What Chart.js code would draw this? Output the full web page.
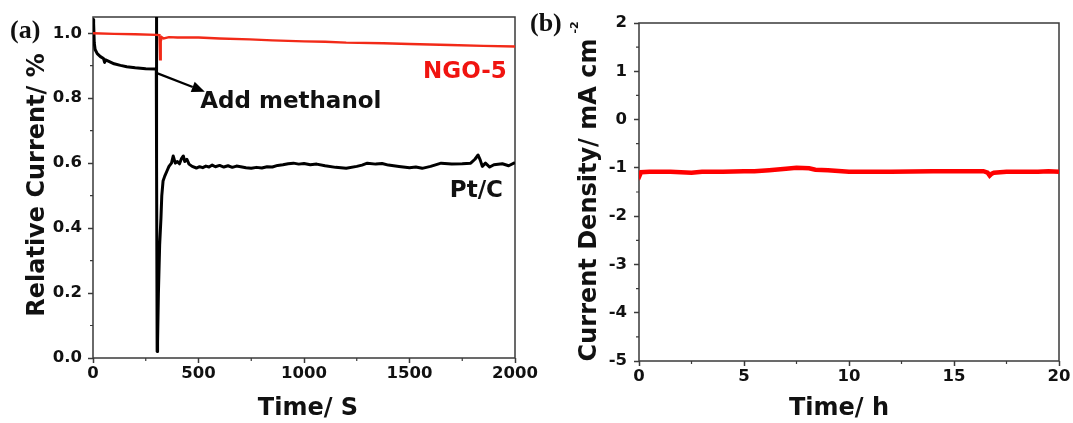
<!DOCTYPE html>
<html>
<head>
<meta charset="utf-8">
<script src="https://cdn.jsdelivr.net/npm/chart.js@4.4.1/dist/chart.umd.min.js"></script>
<style>
  body { margin: 0; background: #fff; }
  #wrap { position: relative; width: 1073px; height: 423px; overflow: hidden; }
  canvas { position: absolute; top: 0; }
  #chartA { left: 0; }
  #chartB { left: 528px; }
</style>
</head>
<body>
<div id="wrap">
  <canvas id="chartA" width="560" height="423"></canvas>
  <canvas id="chartB" width="545" height="423"></canvas>
</div>
<script>
const FONT = '"DejaVu Sans", "Liberation Sans", sans-serif';
const frameColor = '#3a3a3a';

// (a) Pt/C: relative current, methanol injected near 300 s
const ptTime = [0, 3, 6, 10, 20, 35, 50, 55, 60, 80, 100, 130, 160, 200, 250, 298, 300,
  300.5, 302, 304, 306, 310, 316, 322, 326, 332, 340, 350, 360, 372, 380, 390, 400, 410,
  420, 428, 435, 445, 455, 470, 490, 505, 520, 535, 550, 565, 580, 600, 620, 640, 660,
  680, 700, 725, 750, 775, 800, 825, 850, 875, 900, 925, 950, 975, 1000, 1030, 1060,
  1100, 1150, 1200, 1250, 1275, 1300, 1340, 1370, 1400, 1450, 1500, 1530, 1560, 1600,
  1650, 1700, 1750, 1790, 1810, 1825, 1835, 1845, 1860, 1880, 1900, 1940, 1970, 2000];
const ptCurrent = [1.042, 1.03, 0.97, 0.95, 0.937, 0.928, 0.922, 0.91, 0.918, 0.912,
  0.906, 0.901, 0.897, 0.894, 0.891, 0.89, 0.89,
  1.2, 0.6, 0.02, 0.05, 0.2, 0.35, 0.43, 0.5, 0.545, 0.56, 0.575, 0.59, 0.6, 0.622,
  0.6, 0.605, 0.598, 0.615, 0.622, 0.605, 0.612, 0.597, 0.59, 0.585, 0.589, 0.586,
  0.591, 0.588, 0.594, 0.589, 0.593, 0.588, 0.592, 0.587, 0.591, 0.589, 0.586, 0.584,
  0.587, 0.585, 0.589, 0.588, 0.593, 0.595, 0.598, 0.6, 0.597, 0.599, 0.595, 0.597,
  0.592, 0.587, 0.584, 0.59, 0.594, 0.6, 0.597, 0.599, 0.594, 0.59, 0.586, 0.588,
  0.584, 0.59, 0.6, 0.597, 0.598, 0.6, 0.612, 0.625, 0.61, 0.59, 0.6, 0.588, 0.595,
  0.598, 0.592, 0.602];

// (a) NGO-5
const ngoTime = [0, 100, 200, 300, 315, 318, 320, 322, 326, 335, 360, 400, 500, 600,
  743, 850, 1000, 1100, 1200, 1376, 1500, 1692, 1850, 2000];
const ngoCurrent = [1.0, 0.998, 0.997, 0.995, 0.994, 0.92, 0.925, 0.975, 0.988, 0.984,
  0.988, 0.987, 0.987, 0.984, 0.981, 0.978, 0.975, 0.974, 0.971, 0.969, 0.967, 0.964,
  0.961, 0.959];

// (b) NGO-5 long-run current density
const stabTime = [0, 0.05, 0.1, 0.5, 1.5, 2.5, 3, 4, 5, 5.5, 6.2, 7, 7.5, 8.1, 8.4, 9,
  10, 12, 14, 16.4, 16.6, 16.7, 16.8, 16.9, 17.5, 19, 19.5, 20];
const stabDensity = [-1.08, -1.14, -1.09, -1.08, -1.08, -1.1, -1.08, -1.08, -1.07, -1.07,
  -1.05, -1.02, -1.0, -1.01, -1.04, -1.05, -1.08, -1.08, -1.07, -1.07, -1.1, -1.16,
  -1.12, -1.1, -1.08, -1.08, -1.07, -1.08];

// minor tick positions
const aMinorX = [250, 750, 1250, 1750];
const aMinorY = [0.1, 0.3, 0.5, 0.7, 0.9];
const bMinorX = [2.5, 7.5, 12.5, 17.5];
const bMinorY = [1.5, 0.5, -0.5, -1.5, -2.5, -3.5, -4.5];

function pts(xs, ys) {
  return xs.map((x, i) => ({ x: x, y: ys[i] }));
}

// box round the plot area plus the short minor ticks
const framePlugin = {
  id: 'frame',
  beforeDatasetsDraw(chart, args, opts) {
    const { ctx, chartArea: a, scales } = chart;
    ctx.save();
    ctx.strokeStyle = frameColor;
    ctx.lineWidth = 1.5;
    ctx.strokeRect(a.left, a.top, a.right - a.left, a.bottom - a.top);
    ctx.lineWidth = 1.2;
    ctx.beginPath();
    (opts.minorX || []).forEach(v => {
      const px = scales.x.getPixelForValue(v);
      ctx.moveTo(px, a.bottom);
      ctx.lineTo(px, a.bottom + 3);
    });
    (opts.minorY || []).forEach(v => {
      const py = scales.y.getPixelForValue(v);
      ctx.moveTo(a.left, py);
      ctx.lineTo(a.left - 3, py);
    });
    ctx.stroke();
    ctx.restore();
  }
};

function text(ctx, str, x, y, size, align, color, family) {
  ctx.font = 'bold ' + size + 'px ' + (family || FONT);
  ctx.textAlign = align || 'left';
  ctx.textBaseline = 'alphabetic';
  ctx.fillStyle = color || '#111';
  ctx.fillText(str, x, y);
}

function vtext(ctx, str, x, y, size) {
  ctx.save();
  ctx.translate(x, y);
  ctx.rotate(-Math.PI / 2);
  text(ctx, str, 0, 0, size, 'center');
  ctx.restore();
}

const panelA = {
  id: 'panelA',
  afterDatasetsDraw(chart) {
    const { ctx, scales: { x, y } } = chart;
    ctx.save();
    // arrow pointing from the injection step to its label
    const x0 = x.getPixelForValue(300), y0 = y.getPixelForValue(0.878);
    const x1 = x.getPixelForValue(530), y1 = y.getPixelForValue(0.82);
    const ang = Math.atan2(y1 - y0, x1 - x0);
    const hl = 13, hw = 5.5;
    const bx = x1 - hl * Math.cos(ang), by = y1 - hl * Math.sin(ang);
    ctx.strokeStyle = '#000';
    ctx.lineWidth = 2.2;
    ctx.beginPath();
    ctx.moveTo(x0, y0);
    ctx.lineTo(bx, by);
    ctx.stroke();
    ctx.fillStyle = '#000';
    ctx.beginPath();
    ctx.moveTo(x1, y1);
    ctx.lineTo(bx + hw * Math.sin(ang), by - hw * Math.cos(ang));
    ctx.lineTo(bx - hw * Math.sin(ang), by + hw * Math.cos(ang));
    ctx.closePath();
    ctx.fill();

    text(ctx, 'Add methanol', x.getPixelForValue(508), y.getPixelForValue(0.769), 23);
    text(ctx, 'NGO-5', x.getPixelForValue(1961), y.getPixelForValue(0.861), 23, 'right', '#f01410');
    text(ctx, 'Pt/C', x.getPixelForValue(1943), y.getPixelForValue(0.495), 23, 'right');

    // axis titles and panel letter
    text(ctx, 'Time/ S', 308, 415, 24, 'center');
    vtext(ctx, 'Relative Current/ %', 43.5, 185, 24);
    text(ctx, '(a)', 10, 38, 26, 'left', '#111', '"Liberation Serif", serif');
    ctx.restore();
  }
};

const panelB = {
  id: 'panelB',
  afterDatasetsDraw(chart) {
    const { ctx } = chart;
    ctx.save();
    text(ctx, 'Time/ h', 311, 415, 24, 'center');
    // y title with the -2 exponent
    const main = 'Current Density/ mA cm';
    ctx.translate(68, 200);
    ctx.rotate(-Math.PI / 2);
    text(ctx, main, 0, 0, 24, 'center');
    const w = ctx.measureText(main).width;
    text(ctx, '-2', w / 2 + 5, -18, 11, 'left');
    ctx.restore();
    ctx.save();
    text(ctx, '(b)', 2, 31, 26, 'left', '#111', '"Liberation Serif", serif');
    ctx.restore();
  }
};

function axis(min, max, step, pad, fmt, fit) {
  return {
    type: 'linear',
    min: min,
    max: max,
    afterFit: fit,
    border: { display: false },
    grid: {
      drawOnChartArea: false,
      tickLength: 5,
      tickWidth: 1.5,
      tickColor: frameColor
    },
    ticks: {
      stepSize: step,
      includeBounds: false,
      autoSkip: false,
      maxRotation: 0,
      padding: pad,
      color: '#111',
      font: { family: FONT, weight: 'bold', size: 16.5 },
      callback: fmt
    }
  };
}

Chart.defaults.font.family = FONT;

new Chart(document.getElementById('chartA'), {
  type: 'line',
  data: {
    datasets: [{
      label: 'NGO-5',
      data: pts(ngoTime, ngoCurrent),
      borderColor: '#f22a18',
      borderWidth: 2.4,
      pointRadius: 0,
      tension: 0
    }, {
      label: 'Pt/C',
      data: pts(ptTime, ptCurrent),
      borderColor: '#000',
      borderWidth: 3,
      borderJoinStyle: 'round',
      pointRadius: 0,
      tension: 0,
      clip: 0
    }]
  },
  options: {
    responsive: false,
    animation: false,
    layout: { padding: { top: 17, right: 45, left: 0, bottom: 0 } },
    plugins: {
      legend: { display: false },
      tooltip: { enabled: false },
      frame: { minorX: aMinorX, minorY: aMinorY }
    },
    scales: {
      x: axis(0, 2000, 500, 1, v => String(v), s => { s.height = 65; }),
      y: axis(0, 1.05, 0.2, 6, v => v.toFixed(1), s => { s.width = 93; })
    }
  },
  plugins: [framePlugin, panelA]
});

new Chart(document.getElementById('chartB'), {
  type: 'line',
  data: {
    datasets: [{
      label: 'NGO-5',
      data: pts(stabTime, stabDensity),
      borderColor: '#f00',
      borderWidth: 4.5,
      pointRadius: 0,
      tension: 0
    }]
  },
  options: {
    responsive: false,
    animation: false,
    layout: { padding: { top: 23, right: 14, left: 0, bottom: 0 } },
    plugins: {
      legend: { display: false },
      tooltip: { enabled: false },
      frame: { minorX: bMinorX, minorY: bMinorY }
    },
    scales: {
      x: axis(0, 20, 5, 1, v => String(v), s => { s.height = 62; }),
      y: axis(-5, 2, 1, 7, v => String(v), s => { s.width = 111; })
    }
  },
  plugins: [framePlugin, panelB]
});
</script>
</body>
</html>
